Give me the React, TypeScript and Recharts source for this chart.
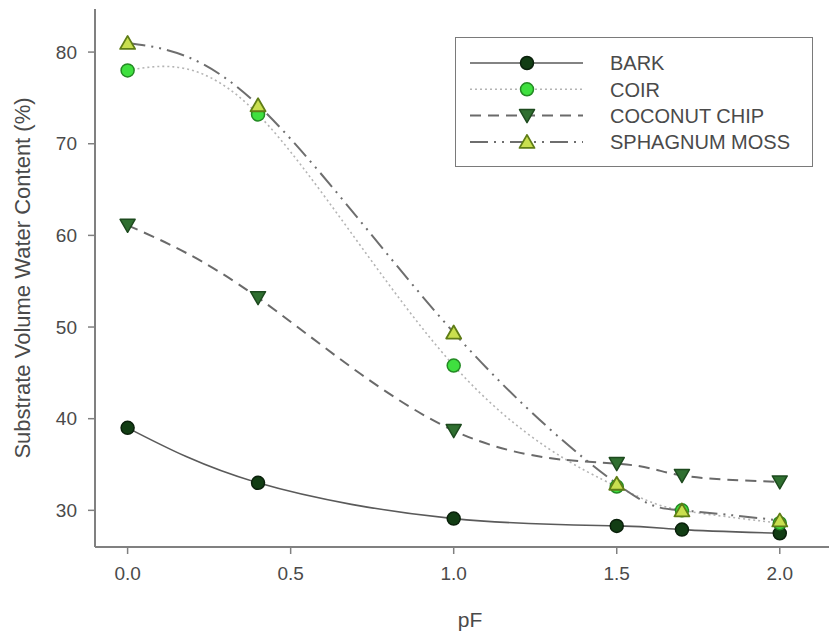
import React from 'react';
import { LineChart, Line, XAxis, YAxis } from 'recharts';

// pF (log suction) at which each water content was measured
const pF = [0, 0.4, 1.0, 1.5, 1.7, 2.0];

// Substrate volume water content (%) per substrate
const bark = [39.0, 33.0, 29.1, 28.3, 27.9, 27.5];
const coir = [78.0, 73.2, 45.8, 32.6, 30.0, 28.6];
const coconutChip = [61.1, 53.2, 38.7, 35.1, 33.8, 33.1];
const sphagnumMoss = [81.0, 74.2, 49.4, 32.9, 30.0, 28.9];

const xTicks = [0, 0.5, 1.0, 1.5, 2.0];
const yTicks = [30, 40, 50, 60, 70, 80];

const FONT = '"Liberation Sans", Arial, Helvetica, sans-serif';
const TEXT = '#4a4a4a';
const AXIS = '#808080';

type MarkerKind = 'circle' | 'down' | 'up';

interface SeriesDef {
  key: string;
  name: string;
  stroke: string;
  width: number;
  dash?: string;
  marker: MarkerKind;
  fill: string;
  edge: string;
}

const SERIES: SeriesDef[] = [
  { key: 'bark', name: 'BARK', stroke: '#5a5a5a', width: 1.6, marker: 'circle', fill: '#123d14', edge: '#0a200b' },
  { key: 'coir', name: 'COIR', stroke: '#b4b4b4', width: 1.6, dash: '2 3', marker: 'circle', fill: '#3fe03f', edge: '#238a23' },
  { key: 'coconutChip', name: 'COCONUT CHIP', stroke: '#6a6a6a', width: 2, dash: '11 7', marker: 'down', fill: '#2f6f30', edge: '#1d4a1e' },
  { key: 'sphagnumMoss', name: 'SPHAGNUM MOSS', stroke: '#6e6e6e', width: 2, dash: '18 6 2 6 2 6', marker: 'up', fill: '#c9df4f', edge: '#5f7d16' },
];

const rows = pF.map((x, i) => ({
  pF: x,
  bark: bark[i],
  coir: coir[i],
  coconutChip: coconutChip[i],
  sphagnumMoss: sphagnumMoss[i],
}));

function Marker({ kind, cx, cy, fill, edge }: { kind: MarkerKind; cx: number; cy: number; fill: string; edge: string }) {
  if (kind === 'circle') {
    return <circle cx={cx} cy={cy} r={6.5} fill={fill} stroke={edge} strokeWidth={1.5} />;
  }
  if (kind === 'down') {
    const pts = `${cx - 7.5},${cy - 6} ${cx + 7.5},${cy - 6} ${cx},${cy + 7}`;
    return <polygon points={pts} fill={fill} stroke={edge} strokeWidth={1.5} strokeLinejoin="round" />;
  }
  const pts = `${cx},${cy - 7} ${cx - 7.5},${cy + 6} ${cx + 7.5},${cy + 6}`;
  return <polygon points={pts} fill={fill} stroke={edge} strokeWidth={1.8} strokeLinejoin="round" />;
}

function makeDot(s: SeriesDef) {
  return (props: any) => {
    const { cx, cy, index } = props;
    if (cx == null || cy == null) return <g key={`${s.key}-${index}`} />;
    return (
      <g key={`${s.key}-${index}`}>
        <Marker kind={s.marker} cx={cx} cy={cy} fill={s.fill} edge={s.edge} />
      </g>
    );
  };
}

function LegendBox() {
  const w = 358;
  const h = 130;
  return (
    <div
      style={{
        position: 'absolute',
        left: 447,
        top: 29,
        width: w,
        height: h,
        border: '1.5px solid #7a7a7a',
        background: '#fff',
        boxSizing: 'border-box',
      }}
    >
      <svg width={w - 3} height={h - 3} style={{ display: 'block' }}>
        {SERIES.map((s, i) => {
          const y = 25 + i * 26.3;
          return (
            <g key={s.key}>
              <line x1={14} x2={127} y1={y} y2={y} stroke={s.stroke} strokeWidth={s.width} strokeDasharray={s.dash} />
              <Marker kind={s.marker} cx={71} cy={y} fill={s.fill} edge={s.edge} />
              <text x={154} y={y} dy="0.36em" fontSize={20} fontFamily={FONT} fill={TEXT}>
                {s.name}
              </text>
            </g>
          );
        })}
      </svg>
    </div>
  );
}

export default function App() {
  return (
    <div style={{ position: 'relative', width: 829, height: 627, overflow: 'hidden' }}>
      <LineChart
        width={837}
        height={627}
        data={rows}
        margin={{ top: 1, right: 0, bottom: 0, left: 0 }}
        style={{ fontFamily: FONT }}
      >
        <XAxis
          dataKey="pF"
          type="number"
          domain={[-0.1, 2.2]}
          ticks={xTicks}
          tickFormatter={(v: number) => v.toFixed(1)}
          allowDataOverflow
          height={88}
          tickSize={7}
          tickMargin={13}
          stroke={AXIS}
          axisLine={{ stroke: AXIS, strokeWidth: 2 }}
          tickLine={{ stroke: AXIS, strokeWidth: 1.5 }}
          tick={{ fill: TEXT, fontSize: 19, fontFamily: FONT }}
          label={{ value: 'pF', position: 'insideBottom', offset: 8, fill: TEXT, fontSize: 21, fontFamily: FONT }}
        />
        <XAxis
          xAxisId="top"
          orientation="top"
          dataKey="pF"
          type="number"
          domain={[-0.1, 2.2]}
          height={0}
          tick={false}
          tickLine={false}
          axisLine={{ stroke: AXIS, strokeWidth: 2 }}
        />
        <YAxis
          type="number"
          domain={[26, 84.7]}
          ticks={yTicks}
          allowDataOverflow
          width={87}
          tickSize={7}
          tickMargin={11}
          axisLine={{ stroke: AXIS, strokeWidth: 2 }}
          tickLine={{ stroke: AXIS, strokeWidth: 1.5 }}
          tick={{ fill: TEXT, fontSize: 19, fontFamily: FONT }}
          label={{
            value: 'Substrate Volume Water Content (%)',
            angle: -90,
            position: 'insideLeft',
            offset: 14,
            fill: TEXT,
            fontSize: 22,
            fontFamily: FONT,
            style: { textAnchor: 'middle' },
          }}
        />
        {SERIES.map((s) => (
          <Line
            key={s.key}
            dataKey={s.key}
            name={s.name}
            type="natural"
            stroke={s.stroke}
            strokeWidth={s.width}
            strokeDasharray={s.dash}
            dot={makeDot(s)}
            activeDot={false}
            isAnimationActive={false}
          />
        ))}
      </LineChart>
      <LegendBox />
    </div>
  );
}
